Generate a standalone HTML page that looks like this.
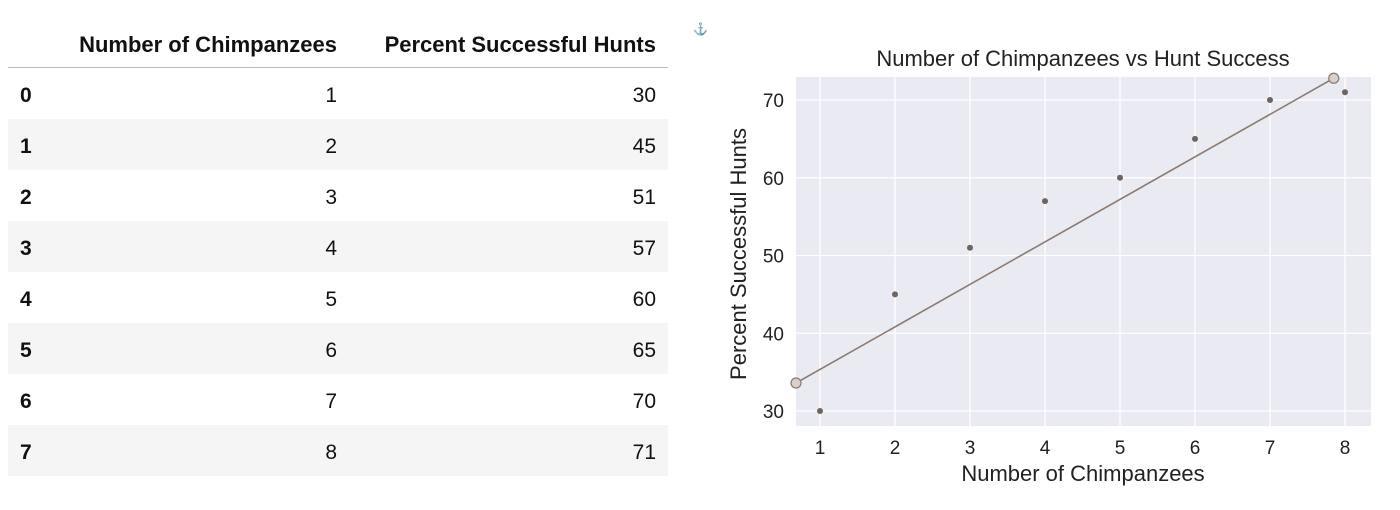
<!DOCTYPE html>
<html><head><meta charset="utf-8"><style>
body{margin:0;width:1400px;height:510px;background:#fff;font-family:"Liberation Sans",sans-serif;overflow:hidden;position:relative}
table{position:absolute;left:8px;top:22px;border-collapse:collapse;width:660px;font-size:21px;color:#111;table-layout:fixed}
th{font-weight:bold;font-size:22px;text-align:right;height:45px;padding:0 12px 0 0;border-bottom:1.5px solid #bbb;vertical-align:middle;white-space:nowrap}
td{height:46px;text-align:right;padding:5px 12px 0 0}
td.i{text-align:left;font-weight:bold;padding-left:12px}
tr.s td{background:#f5f5f5}
</style></head><body>
<table>
<colgroup><col style="width:50px"><col style="width:291px"><col style="width:319px"></colgroup>
<thead><tr><th></th><th>Number of Chimpanzees</th><th>Percent Successful Hunts</th></tr></thead>
<tbody>
<tr><td class="i">0</td><td>1</td><td>30</td></tr>
<tr class="s"><td class="i">1</td><td>2</td><td>45</td></tr>
<tr><td class="i">2</td><td>3</td><td>51</td></tr>
<tr class="s"><td class="i">3</td><td>4</td><td>57</td></tr>
<tr><td class="i">4</td><td>5</td><td>60</td></tr>
<tr class="s"><td class="i">5</td><td>6</td><td>65</td></tr>
<tr><td class="i">6</td><td>7</td><td>70</td></tr>
<tr class="s"><td class="i">7</td><td>8</td><td>71</td></tr>
</tbody></table>
<svg id="chart" width="1400" height="510" style="position:absolute;left:0;top:0" font-family="Liberation Sans, sans-serif">
<text x="693" y="33" font-size="12" fill="#111">⚓</text>
</svg>
<script>
const xs=[1,2,3,4,5,6,7,8];
const ys=[30,45,51,57,60,65,70,71];
const xTicks=[1,2,3,4,5,6,7,8];
const yTicks=[30,40,50,60,70];
const lineX=[0.68,7.85];
const lineY=[33.6,72.8];
const L=796,R=1371,T=77,B=426;
const X=v=>820+(v-1)*75;
const Y=v=>411-(v-30)*7.775;
const svg=document.getElementById('chart');
const NS='http://www.w3.org/2000/svg';
function mk(t,a,p){const e=document.createElementNS(NS,t);for(const k in a)e.setAttribute(k,a[k]);(p||svg).appendChild(e);return e;}
let bg=mk('rect',{x:L,y:T,width:R-L,height:B-T,fill:'#eaeaf2'});


xTicks.forEach(v=>{
 let g=mk('line',{x1:X(v),x2:X(v),y1:T,y2:B,stroke:'#fff','stroke-width':1.3});
 
 
 let t=mk('text',{x:X(v),y:454,'font-size':19,'text-anchor':'middle',fill:'#222'});t.textContent=v;
 
 
});
yTicks.forEach(v=>{
 let g=mk('line',{x1:L,x2:R,y1:Y(v),y2:Y(v),stroke:'#fff','stroke-width':1.3});
 
 
 let t=mk('text',{x:784,y:Y(v)+7,'font-size':19,'text-anchor':'end',fill:'#222'});t.textContent=v;
 
 
});
let ln=mk('line',{x1:X(lineX[0]),y1:Y(lineY[0]),x2:X(lineX[1]),y2:Y(lineY[1]),stroke:'#8a7a70','stroke-width':1.6});


lineX.forEach((v,i)=>{
 let c=mk('circle',{cx:X(v),cy:Y(lineY[i]),r:5,fill:'#d9cfcb',stroke:'#8a7a70','stroke-width':1.2});
 
 
});
xs.forEach((v,i)=>{
 let c=mk('circle',{cx:X(v),cy:Y(ys[i]),r:3,fill:'#6e6360'});
 
 
});
let ti=mk('text',{x:1083,y:66,'font-size':22,'text-anchor':'middle',fill:'#222'});ti.textContent='Number of Chimpanzees vs Hunt Success';


let xl=mk('text',{x:1083,y:481,'font-size':22,'text-anchor':'middle',fill:'#222'});xl.textContent='Number of Chimpanzees';


let yl=mk('text',{x:0,y:0,'font-size':22,'text-anchor':'middle',fill:'#222',transform:'translate(746,254) rotate(-90)'});yl.textContent='Percent Successful Hunts';


</script>
</body></html>
